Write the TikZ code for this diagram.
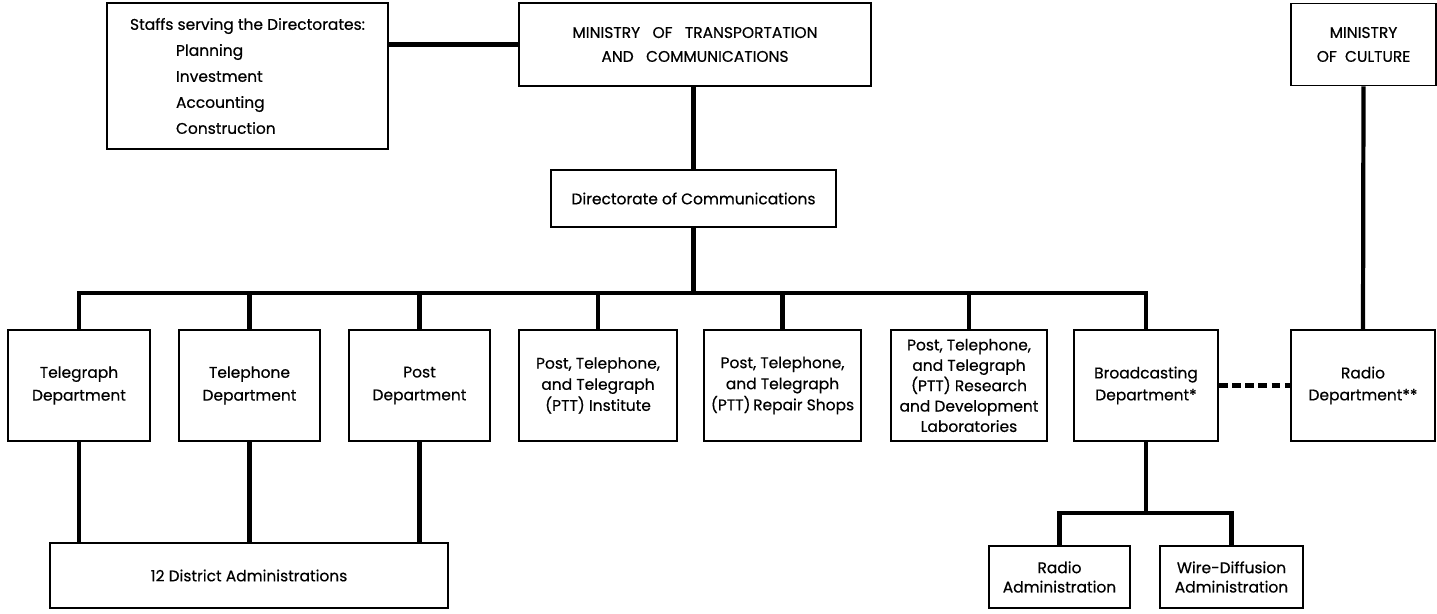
\documentclass[tikz,border=0pt]{standalone}
\usepackage{fontspec}
\newfontfamily\orgfont{Poppins}[FakeBold=0.5]
\usetikzlibrary{positioning}
\tikzset{
  box/.style={draw, line width=1.1pt, align=center, inner sep=2pt,
    font=\orgfont\fontsize{8.8}{12}\selectfont},
  link/.style={line width=2.4pt},
  dept/.style={box, minimum height=2.22cm}
}
\begin{document}
\begin{tikzpicture}[x=0.02cm, y=-0.02cm]
  \useasboundingbox (0,0) rectangle (1437,614);
  % Ministerios
  \node[box, minimum width=5.62cm, minimum height=2.92cm, align=left,
    font=\orgfont\fontsize{8.8}{14.8}\selectfont] (staff) at (247.5,76)
    {Staffs serving the Directorates:\\
     \hspace*{0.92cm}Planning\\
     \hspace*{0.92cm}Investment\\
     \hspace*{0.92cm}Accounting\\
     \hspace*{0.92cm}Construction};
  \node[box, minimum width=7.04cm, minimum height=1.66cm,
    font=\orgfont\fontsize{8.8}{13.6}\selectfont] (mtc) at (695,44.5)
    {MINISTRY\ \ \ OF\ \ \ TRANSPORTATION\\AND\ \ \ COMMUNICATIONS};
  \node[box, minimum width=2.9cm, minimum height=1.64cm,
    font=\orgfont\fontsize{8.8}{13.6}\selectfont] (mcul) at (1363.5,44.5)
    {MINISTRY\\OF\ \ CULTURE};
  \node[box, minimum width=5.7cm, minimum height=1.14cm] (dir) at (693.5,198.5)
    {Directorate of Communications};
  % Departamentos
  \node[dept, minimum width=2.84cm, font=\orgfont\fontsize{8.8}{13}\selectfont] (tg) at (79,385.5)
    {Telegraph\\Department};
  \node[dept, minimum width=2.82cm, font=\orgfont\fontsize{8.8}{13}\selectfont] (tp) at (249.5,385.5)
    {Telephone\\Department};
  \node[dept, minimum width=2.82cm, font=\orgfont\fontsize{8.8}{13}\selectfont] (post) at (419.5,385.5)
    {Post\\Department};
  \node[dept, minimum width=3.16cm] (inst) at (598,385.5)
    {Post, Telephone,\\and Telegraph\\(PTT) Institute};
  \node[dept, minimum width=3.14cm] (shops) at (782.5,385.5)
    {Post, Telephone,\\and Telegraph\\(PTT)\,Repair Shops};
  \node[dept, minimum width=3.12cm, font=\orgfont\fontsize{8.8}{11.6}\selectfont] (lab) at (969,385.5)
    {Post, Telephone,\\and Telegraph\\(PTT) Research\\and Development\\Laboratories};
  \node[dept, minimum width=2.88cm, font=\orgfont\fontsize{8.8}{12.5}\selectfont] (bcast) at (1146,385.5)
    {Broadcasting\\Department*};
  \node[dept, minimum width=2.88cm, font=\orgfont\fontsize{8.8}{12.5}\selectfont] (radio) at (1363,385.5)
    {Radio\\Department**};
  % Nivel inferior
  \node[box, minimum width=7.96cm, minimum height=1.3cm] (dist) at (249,575.5)
    {12 District Administrations};
  \node[box, minimum width=2.82cm, minimum height=1.24cm, font=\orgfont\fontsize{8.8}{11}\selectfont] (radm) at (1059.5,577)
    {Radio\\Administration};
  \node[box, minimum width=2.86cm, minimum height=1.24cm, font=\orgfont\fontsize{8.8}{11}\selectfont] (wire) at (1231.5,577)
    {Wire-Diffusion\\Administration};
  % Conexiones
  \coordinate (bus) at (693.5,293);
  \coordinate (fork) at (1146,513);
  \draw[link] (staff.east |- mtc.west) -- (mtc.west);
  \draw[link] (dir.north |- mtc.south) -- (dir.north);
  \draw[link] (dir.south) -- (bus);
  \draw[link] (tg.north) |- (bus) -| (bcast.north);
  \foreach \d in {tp, post, inst, shops, lab}
    \draw[link] (\d.north) -- (\d.north |- bus);
  \foreach \d in {tg, tp, post}
    \draw[link] (\d.south) -- (\d.south |- dist.north);
  \draw[link] (mcul.south) -- (radio.north);
  \draw[link, dash pattern=on 5pt off 2.5pt] (bcast.east) -- (radio.west);
  \draw[link] (bcast.south) -- (fork);
  \draw[link] (radm.north) |- (fork) -| (wire.north);
\end{tikzpicture}
\end{document}
